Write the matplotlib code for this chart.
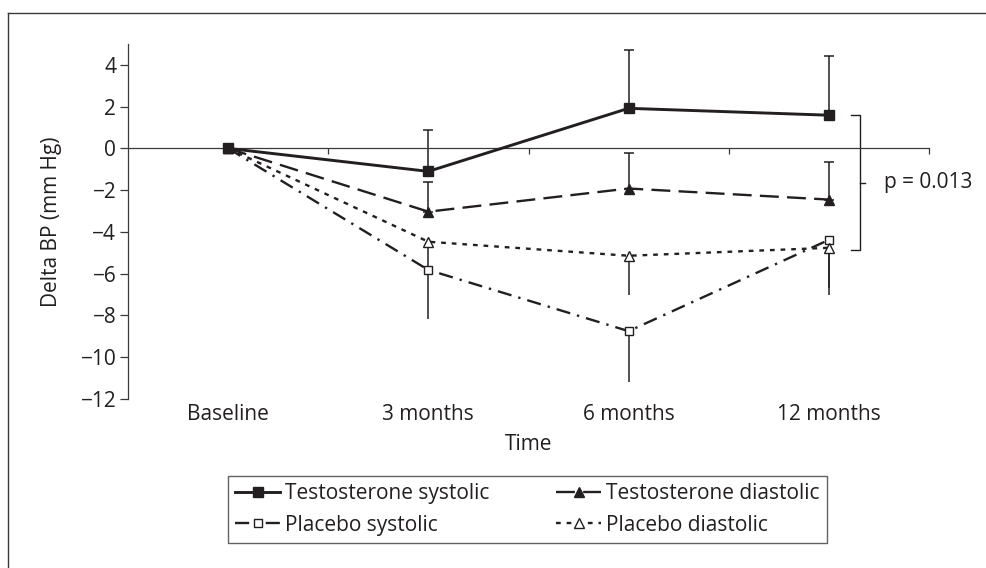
import matplotlib.pyplot as plt
from matplotlib.lines import Line2D
import numpy as np

plt.rcParams['font.family'] = ['Open Sans', 'DejaVu Sans']
ink = '#231f20'
fs = 15

times = ['Baseline', '3 months', '6 months', '12 months']
t_sys = [0.0, -1.1, 1.92, 1.59]
t_sys_err = [0.0, 1.97, 2.8, 2.83]
t_dia = [0.0, -3.03, -1.92, -2.45]
t_dia_err = [0.0, 1.4, 1.68, 1.82]
p_sys = [0.0, -5.82, -8.75, -4.38]
p_sys_err = [0.0, 2.35, 2.45, 2.3]
p_dia = [0.0, -4.47, -5.14, -4.76]
p_dia_err = [0.0, 1.5, 1.88, 2.26]

x = np.arange(len(times))
zero = np.zeros(len(times))

fig = plt.figure(figsize=(9.86, 5.68), dpi=100)
ax = fig.add_axes([128/986, 1-399/568, 801/986, 355/568])

# error bars: testosterone up, placebo down
ax.errorbar(x, t_sys, yerr=[zero, t_sys_err], fmt='none', ecolor=ink,
            elinewidth=1.1, capsize=3.3, capthick=1.1, zorder=2)
ax.errorbar(x, t_dia, yerr=[zero, t_dia_err], fmt='none', ecolor=ink,
            elinewidth=1.1, capsize=3.3, capthick=1.1, zorder=2)
ax.errorbar(x, p_sys, yerr=[p_sys_err, zero], fmt='none', ecolor=ink,
            elinewidth=1.1, capsize=0, zorder=2)
ax.errorbar(x, p_dia, yerr=[p_dia_err, zero], fmt='none', ecolor=ink,
            elinewidth=1.1, capsize=0, zorder=2)

l1, = ax.plot(x, t_sys, color=ink, lw=2.1, ls='-', marker='s', ms=7,
              mfc=ink, mec=ink, zorder=4, label='Testosterone systolic')
l2, = ax.plot(x, t_dia, color=ink, lw=1.7, ls=(0, (8, 3.5)), marker='^', ms=7.5,
              mfc=ink, mec=ink, zorder=4, label='Testosterone diastolic')
l3, = ax.plot(x, p_sys, color=ink, lw=1.7, ls=(0, (6, 3, 1, 3)), marker='s', ms=6,
              mfc='white', mec=ink, mew=1.0, zorder=3, label='Placebo systolic')
l4, = ax.plot(x, p_dia, color=ink, lw=1.7, ls=(0, (2, 2.5)), marker='^', ms=7,
              mfc='white', mec=ink, mew=1.0, zorder=3, label='Placebo diastolic')

ax.set_xlim(-0.5, 3.5)
ax.set_ylim(-12, 5)
ax.set_yticks(np.arange(-12, 5, 2))
ax.spines['top'].set_visible(False)
ax.spines['right'].set_visible(False)
ax.spines['bottom'].set_position(('data', 0))
for s in ('left', 'bottom'):
    ax.spines[s].set_color('#3a3a3a')
    ax.spines[s].set_linewidth(0.9)
ax.tick_params(axis='y', direction='out', length=5.5, width=0.9, color='#3a3a3a',
               labelsize=fs, labelcolor=ink, pad=3)
ax.set_xticks(x)
ax.set_xticklabels([])
ax.set_xticks(np.arange(-0.5, 4, 1)[1:], minor=True)
ax.tick_params(axis='x', which='major', length=0)
ax.tick_params(axis='x', which='minor', direction='out', length=4.5, width=0.9, color='#3a3a3a')
for xi, lab in zip(x, times):
    ax.text(xi, -0.058, lab, transform=ax.get_xaxis_transform(), ha='center',
            va='baseline', fontsize=fs, color=ink)
ax.text(0.5, -0.143, 'Time', transform=ax.transAxes, ha='center', va='baseline',
        fontsize=fs, color=ink)
ax.set_ylabel('Delta BP (mm Hg)', fontsize=fs, color=ink, labelpad=13)

# significance bracket between 12-month systolic values
top = t_sys[3]
bot = -4.86
bx = 3.155
ax.plot([bx - 0.045, bx, bx, bx - 0.045], [top, top, bot, bot], color=ink,
        lw=1.0, clip_on=False)
ax.plot([bx, bx + 0.025], [(top + bot) / 2] * 2, color=ink, lw=1.0, clip_on=False)
ax.text(bx + 0.12, (top + bot) / 2, 'p = 0.013', ha='left', va='center',
        fontsize=fs, color=ink)

leg = fig.legend(handles=[l1, l3, l2, l4], ncol=2, loc='upper left',
                 bbox_to_anchor=(228/986, 1-476/568), fontsize=fs,
                 frameon=True, fancybox=False, edgecolor='#3a3a3a',
                 handlelength=2.15, handletextpad=0.25, columnspacing=3.2,
                 borderpad=0.35, borderaxespad=0, labelspacing=0.5, labelcolor=ink)
leg.get_frame().set_linewidth(1.0)

# outer frame (cut at right and bottom)
fig.add_artist(Line2D([8/986, 1.0], [1-13/568, 1-13/568], color='#3a3a3a', lw=1.0))
fig.add_artist(Line2D([8/986, 8/986], [0, 1-13/568], color='#3a3a3a', lw=1.0))

fig.savefig('out.png', dpi=100)
